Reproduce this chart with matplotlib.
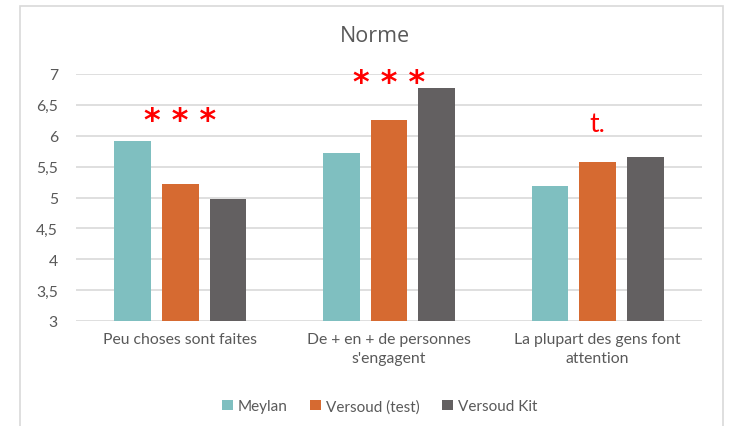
import numpy as np
import matplotlib.pyplot as plt
from matplotlib.patches import Rectangle

# Data.
categories = ["Peu choses sont faites", "De + en + de personnes\ns'engagent", "La plupart des gens font\nattention"]
series_names = ["Meylan", "Versoud (test)", "Versoud Kit"]
meylan = [5.91, 5.72, 5.19]
versoud_test = [5.22, 6.25, 5.57]
versoud_kit = [4.97, 6.78, 5.66]
signif = ["***", "***", "t."]
yticks = [3, 3.5, 4, 4.5, 5, 5.5, 6, 6.5, 7]
ytick_labels = ["3", "3,5", "4", "4,5", "5", "5,5", "6", "6,5", "7"]

colors = ["#7FBFC0", "#D66A31", "#636061"]
text_color = "#595959"

plt.rcParams['font.family'] = ['Lato', 'DejaVu Sans']

fig = plt.figure(figsize=(7.3, 4.27), dpi=100)
fig.patch.set_facecolor("white")

# Chart border like the Excel chart area.
fig.patches.append(Rectangle((20/730, -0.1), 703/730, 1 - 7/427 + 0.1, transform=fig.transFigure,
                             fill=False, edgecolor="#D9D9D9", linewidth=1.2))

ax = fig.add_axes([76/730, 1 - 322/427, 626/730, (322 - 75)/427])

x = np.arange(len(categories))
width = 0.175
step = 0.228
for i, vals in enumerate([meylan, versoud_test, versoud_kit]):
    ax.bar(x + (i - 1) * step, np.array(vals) - 3, width, bottom=3, color=colors[i],
           label=series_names[i], zorder=3)

ax.set_ylim(3, 7)
ax.set_xlim(-0.5, len(categories) - 0.5)
ax.set_yticks(yticks)
ax.set_yticklabels(ytick_labels)
ax.set_xticks(x)
ax.set_xticklabels(categories, linespacing=1.45)
ax.grid(axis="y", color="#D9D9D9", linewidth=1.2, zorder=0)
for s in ax.spines.values():
    s.set_visible(False)
ax.tick_params(axis="both", length=0, colors=text_color, labelsize=11.3)
ax.tick_params(axis="y", pad=13)
ax.tick_params(axis="x", pad=8)

# Significance markers.
sig_y = [6.25, 6.87, 6.2]
for i, s in enumerate(signif):
    if s == "t.":
        ax.text(x[i], sig_y[i], s, color="red", fontsize=19, ha="center", va="center", clip_on=False)
    else:
        ax.text(x[i], sig_y[i], " ".join(s), color="red", fontsize=23, fontweight="bold",
                ha="center", va="center", clip_on=False, family="DejaVu Sans")

fig.text(375/730, 1 - 37/427, "Norme", ha="center", va="center", fontsize=15.5,
         color=text_color, family="Open Sans")

ax.legend(loc="center", bbox_to_anchor=(0.485, -0.345), ncol=3, frameon=False,
          handlelength=0.7, handleheight=0.7, handletextpad=0.3, columnspacing=1.5,
          fontsize=11, labelcolor=text_color)

plt.savefig("out.png", dpi=100)
